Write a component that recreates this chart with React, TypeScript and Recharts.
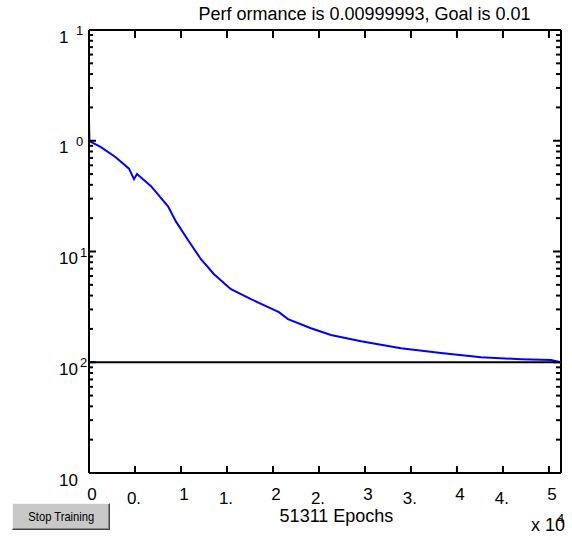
import React from 'react'
import { LineChart, Line, XAxis, YAxis, ReferenceLine } from 'recharts'

// training record
const epochs = [
  0, 50, 1300, 2900, 4350, 4890, 5220, 6740, 8590, 9460, 10760, 12170, 13590, 15430,
  17610, 19240, 20650, 21630, 24130, 26300, 29570, 33910, 38260, 42610, 46960, 50220, 51311,
]
const perf = [
  1.5, 0.99, 0.874, 0.71, 0.56, 0.45, 0.5, 0.389, 0.256, 0.186, 0.127, 0.0852, 0.0623, 0.0457,
  0.0371, 0.0321, 0.0283, 0.0245, 0.0203, 0.0176, 0.0155, 0.0134, 0.0121, 0.0111, 0.01066,
  0.01046, 0.00999993,
]
const goal = 0.01
const maxEpoch = 51311

const xTicks = [0, 5000, 10000, 15000, 20000, 25000, 30000, 35000, 40000, 45000, 50000]
const xTickLabels = ['0', '0.', '1', '1.', '2', '2.', '3', '3.', '4', '4.', '5']

const yMajor = [0.001, 0.01, 0.1, 1, 10]
const yBase = ['10', '10', '10', '1', '1']
const yExp = ['', '2', '1', '0', '1']
const yMinorMult = [2, 3, 4, 5, 6, 7, 8, 9]

const yTicks: number[] = []
yMajor.forEach((m, i) => {
  yTicks.push(m)
  if (i < yMajor.length - 1) yMinorMult.forEach((k) => yTicks.push(+(m * k).toPrecision(3)))
})

const data = epochs.map((e, i) => ({ epoch: e, perf: perf[i] }))

const FONT = '"Liberation Sans", Arial, sans-serif'
const W = 572
const H = 540
// top/right axes get 1px so they still render
const margin = { top: 29, right: 10, bottom: 0, left: 0 }

const majorIndex = (v: number) => yMajor.findIndex((m) => Math.abs(m - v) / m < 1e-6)

function BottomTick(props: any) {
  const { x, y, index } = props
  const label = xTickLabels[index] ?? ''
  const half = label.endsWith('.')
  return (
    <g>
      <line x1={x} x2={x} y1={y} y2={y - 7} stroke="#000" strokeWidth={2} />
      <text
        x={half ? x - 1 : x + 3}
        y={half ? y + 31 : y + 27}
        textAnchor="middle"
        fontFamily={FONT}
        fontSize={17}
        fill="#000"
      >
        {label}
      </text>
    </g>
  )
}

function TopTick(props: any) {
  const { x, y } = props
  // y is one px above the plot top here
  return <line x1={x} x2={x} y1={y + 1} y2={y + 8} stroke="#000" strokeWidth={2} />
}

function LeftTick(props: any) {
  const { x, y, payload } = props
  const idx = majorIndex(payload.value)
  const major = idx >= 0
  return (
    <g>
      <line x1={x} x2={x + (major ? 7 : 4)} y1={y} y2={y} stroke="#000" strokeWidth={2} />
      {major && (
        <>
          <text x={59} y={y + 12.5} fontFamily={FONT} fontSize={17} fill="#000">
            {yBase[idx]}
          </text>
          <text
            x={yBase[idx].length === 1 ? 76 : 80}
            y={y + 5}
            fontFamily={FONT}
            fontSize={13}
            fill="#000"
          >
            {yExp[idx]}
          </text>
        </>
      )}
    </g>
  )
}

function RightTick(props: any) {
  const { x, y, payload } = props
  const major = majorIndex(payload.value) >= 0
  return (
    <line x1={x - 1} x2={x - 1 - (major ? 7 : 4)} y1={y} y2={y} stroke="#000" strokeWidth={2} />
  )
}

export default function App() {
  return (
    <div style={{ position: 'absolute', left: 0, top: 0, width: W, height: H, background: '#fff' }}>
      <LineChart width={W} height={H} data={data} margin={margin}>
        <XAxis
          dataKey="epoch"
          type="number"
          domain={[0, maxEpoch]}
          ticks={xTicks}
          interval={0}
          allowDataOverflow
          height={67}
          tickSize={0}
          tickMargin={0}
          tickLine={false}
          axisLine={{ stroke: '#000', strokeWidth: 2 }}
          tick={<BottomTick />}
        />
        <XAxis
          xAxisId="top"
          orientation="top"
          dataKey="epoch"
          type="number"
          domain={[0, maxEpoch]}
          ticks={xTicks}
          interval={0}
          allowDataOverflow
          height={1}
          tickSize={0}
          tickMargin={0}
          tickLine={false}
          axisLine={false}
          tick={<TopTick />}
        />
        <YAxis
          type="number"
          scale="log"
          domain={[0.001, 10]}
          ticks={yTicks}
          interval={0}
          allowDataOverflow
          width={89}
          tickSize={0}
          tickMargin={0}
          tickLine={false}
          axisLine={{ stroke: '#000', strokeWidth: 2 }}
          tick={<LeftTick />}
        />
        <YAxis
          yAxisId="right"
          orientation="right"
          type="number"
          scale="log"
          domain={[0.001, 10]}
          ticks={yTicks}
          interval={0}
          allowDataOverflow
          width={1}
          tickSize={0}
          tickMargin={0}
          tickLine={false}
          axisLine={false}
          tick={<RightTick />}
        />
        <ReferenceLine y={goal} stroke="#000" strokeWidth={2} />
        <ReferenceLine y={10} stroke="#000" strokeWidth={2} />
        <ReferenceLine x={maxEpoch} stroke="#000" strokeWidth={2} />
        <Line
          dataKey="perf"
          type="linear"
          stroke="#0000ff"
          strokeWidth={2}
          dot={false}
          isAnimationActive={false}
        />
      </LineChart>
      <div
        style={{
          position: 'absolute',
          left: 0,
          width: 729,
          top: 3,
          textAlign: 'center',
          fontFamily: FONT,
          fontSize: 18,
          lineHeight: '22px',
          color: '#000',
          whiteSpace: 'nowrap',
        }}
      >
        Perf ormance is 0.00999993, Goal is 0.01
      </div>
      <div
        style={{
          position: 'absolute',
          left: 0,
          width: 673,
          top: 505,
          textAlign: 'center',
          fontFamily: FONT,
          fontSize: 18,
          lineHeight: '22px',
          color: '#000',
          whiteSpace: 'nowrap',
        }}
      >
        51311 Epochs
      </div>
      <div
        style={{
          position: 'absolute',
          left: 531,
          top: 514,
          fontFamily: FONT,
          fontSize: 18,
          lineHeight: '22px',
          color: '#000',
          whiteSpace: 'nowrap',
        }}
      >
        x 10
        <span style={{ position: 'absolute', left: 26, top: -6, fontSize: 13 }}>4</span>
      </div>
      <div
        style={{
          position: 'absolute',
          left: 12,
          top: 503,
          width: 96,
          height: 25,
          background: '#c8c8c8',
          borderStyle: 'solid',
          borderWidth: 1,
          borderColor: '#f4f4f4 #444 #444 #f4f4f4',
          boxShadow: 'inset -1px -1px 0 #888',
          display: 'flex',
          alignItems: 'center',
          justifyContent: 'center',
        }}
      >
        <span
          style={{
            display: 'inline-block',
            fontFamily: FONT,
            fontSize: 13,
            color: '#000',
            transform: 'scaleX(0.86)',
            whiteSpace: 'nowrap',
          }}
        >
          Stop Training
        </span>
      </div>
    </div>
  )
}
